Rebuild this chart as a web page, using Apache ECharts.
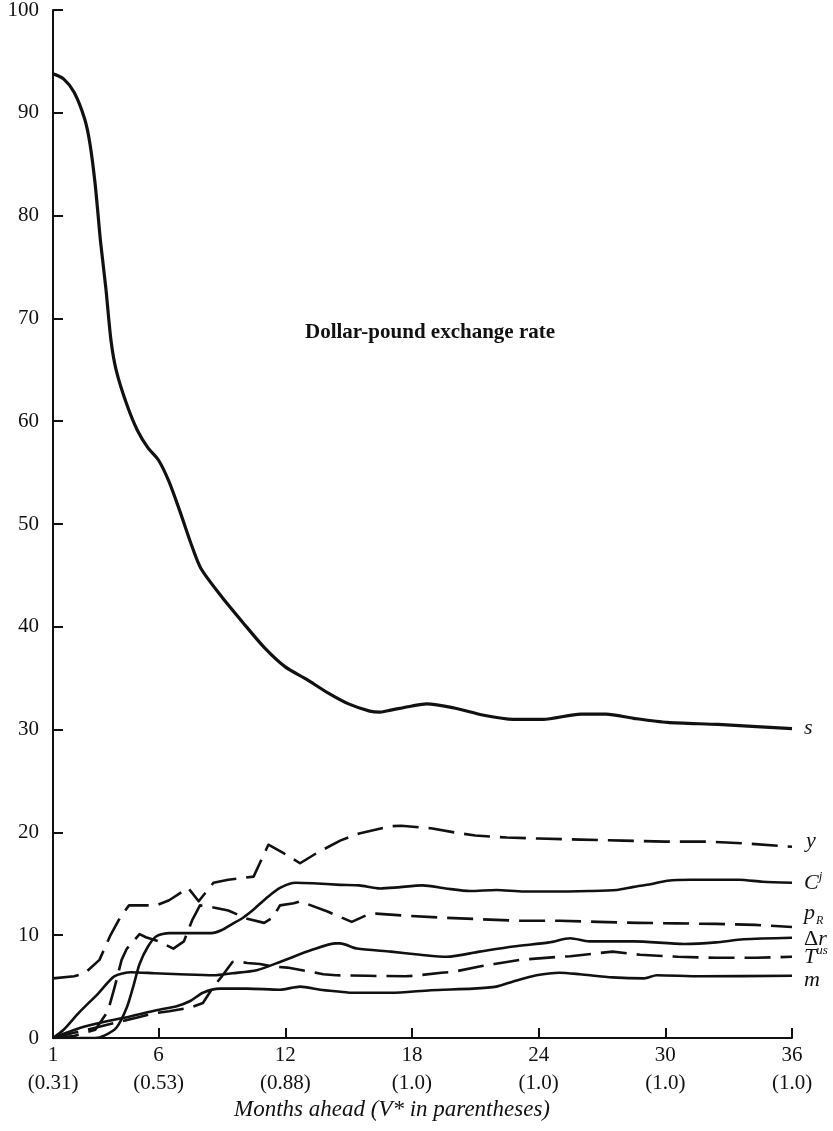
<!DOCTYPE html>
<html>
<head>
<meta charset="utf-8">
<script src="https://cdn.jsdelivr.net/npm/echarts@6/dist/echarts.min.js"></script>
<style>
html,body{margin:0;padding:0;background:#fff;}
#c{width:833px;height:1131px;}
</style>
</head>
<body>
<div id="c"></div>
<script>
// Tick labels
const xTicks = [1, 6, 12, 18, 24, 30, 36];
const vStar = ['0.31', '0.53', '0.88', '1.0', '1.0', '1.0', '1.0'];
const titleText = 'Dollar-pound exchange rate';
const xName = 'Months ahead (V* in parentheses)';

// Series data: [months ahead, percent]
const sData = [[1,93.8],[1.5,93.3],[2,92.0],[2.5,89.4],[2.75,87.0],[3,83.0],[3.25,77.5],[3.5,73.0],[3.75,67.8],[4,64.9],[4.5,61.6],[5,59.1],[5.5,57.4],[6,56.2],[6.5,54.1],[7,51.3],[7.5,48.3],[8,45.7],[9,42.9],[10,40.4],[11,38.0],[12,36.1],[13,34.9],[14,33.6],[15,32.5],[16,31.8],[16.5,31.7],[17,31.9],[18,32.3],[18.7,32.5],[20,32.1],[21.4,31.4],[22.8,31.0],[24.2,31.0],[26,31.5],[27.2,31.5],[28.5,31.1],[30.1,30.7],[32.5,30.5],[36,30.1]];
const yData = [[1,5.8],[2,6.0],[2.5,6.3],[3.2,7.6],[3.7,9.9],[4.2,11.8],[4.6,12.9],[5.9,12.9],[6.5,13.4],[7.4,14.6],[7.9,13.3],[8.6,15.1],[9.3,15.4],[10.5,15.7],[11.2,18.8],[11.9,18.0],[12.7,17.0],[13.5,18.0],[14.6,19.2],[15.5,19.9],[17.0,20.6],[17.5,20.65],[18.9,20.4],[20,20.0],[21,19.7],[22.5,19.5],[24,19.4],[26,19.3],[28,19.2],[30,19.1],[32,19.1],[34,18.9],[36,18.6]];
const cjData = [[1,0],[3,0],[3.4,0.2],[4,1.0],[4.5,3.0],[4.8,5.0],[5.1,7.2],[5.5,8.9],[5.9,9.9],[6.5,10.2],[7.5,10.2],[8.5,10.2],[9.0,10.5],[9.5,11.1],[10,11.7],[10.5,12.5],[11.1,13.6],[11.75,14.6],[12.5,15.1],[13.3,15.05],[14.6,14.9],[15.5,14.85],[16.5,14.55],[17.3,14.65],[18.5,14.85],[19.6,14.55],[20.75,14.3],[22,14.4],[23.3,14.25],[24.5,14.25],[26.4,14.3],[27.7,14.4],[28.5,14.7],[29.3,14.95],[30.1,15.3],[31.2,15.4],[33.5,15.4],[34.6,15.2],[36,15.1]];
const prData = [[1,0],[2,0.2],[3,0.8],[3.6,2.6],[3.9,4.8],[4.25,7.6],[4.5,8.7],[5.1,10.1],[5.4,9.8],[6.0,9.4],[6.7,8.7],[7.2,9.4],[7.6,11.5],[7.96,12.9],[8.6,12.7],[9.3,12.4],[10.2,11.6],[11.0,11.2],[11.4,11.7],[11.75,12.9],[12.4,13.1],[12.7,13.3],[14.0,12.3],[15.15,11.3],[15.9,12.0],[16.3,12.1],[17.7,11.9],[19.5,11.7],[21.3,11.55],[23.1,11.4],[25,11.4],[26.8,11.3],[28.7,11.2],[30.5,11.15],[32.4,11.1],[34.25,11.0],[36,10.8]];
const drData = [[1,0],[1.5,0.8],[2.2,2.4],[3.15,4.35],[3.9,6.0],[4.7,6.4],[5.8,6.3],[7.0,6.2],[8.6,6.1],[9.5,6.3],[10.65,6.6],[11.75,7.4],[13.3,8.6],[14.4,9.2],[14.6,9.2],[15.4,8.7],[17.0,8.4],[18.4,8.1],[19.65,7.9],[21.2,8.4],[22.8,8.9],[24.5,9.3],[25.5,9.7],[26.4,9.4],[28.5,9.4],[30.9,9.15],[32.4,9.3],[33.7,9.6],[36,9.75]];
const tusData = [[1,0],[2,0.5],[3,1.0],[4,1.5],[5,2.0],[5.75,2.4],[6.5,2.6],[7.5,2.95],[8.1,3.4],[8.6,5.0],[9.0,6.0],[9.5,7.4],[9.7,7.45],[10.2,7.3],[10.8,7.2],[11.4,6.95],[12.1,6.85],[13.2,6.45],[13.8,6.2],[14.4,6.1],[15.9,6.05],[17.7,6.0],[18.1,6.05],[19.4,6.35],[20,6.45],[21.2,6.95],[21.9,7.2],[23.1,7.6],[23.7,7.7],[25,7.9],[25.5,7.95],[26.8,8.25],[27.5,8.4],[28.8,8.1],[30.6,7.9],[32.4,7.8],[34.3,7.8],[36,7.9]];
const mData = [[1,0],[2.3,1.0],[3.5,1.6],[4.65,2.1],[5.9,2.7],[6.86,3.1],[7.5,3.6],[8.1,4.4],[8.9,4.8],[10.2,4.8],[11.75,4.7],[12.7,5.0],[13.65,4.7],[14.6,4.5],[15.1,4.4],[17,4.4],[18.9,4.65],[20.9,4.8],[22,5.0],[22.8,5.5],[23.9,6.1],[25,6.35],[25.96,6.2],[27.5,5.9],[29,5.8],[29.6,6.1],[31.65,6.0],[36,6.05]];

const serif = '"Liberation Serif", "DejaVu Serif", serif';
const ink = '#111';

const richBase = {
  i: {fontFamily: serif, fontStyle: 'italic', fontSize: 22, color: ink},
  n: {fontFamily: serif, fontSize: 22, color: ink},
  sup: {fontFamily: serif, fontStyle: 'italic', fontSize: 13, color: ink, padding: [0, 0, 12, 0]},
  sub: {fontFamily: serif, fontStyle: 'italic', fontSize: 12, color: ink, padding: [16, 0, 0, 1]}
};

function mk(name, data, dashed, width, label, offset, smooth) {
  return {
    name: name,
    type: 'line',
    data: data,
    showSymbol: false,
    smooth: smooth,
    lineStyle: {color: ink, width: width, type: dashed ? [26, 10] : 'solid', cap: 'butt', join: 'round'},
    endLabel: {
      show: true,
      formatter: function () { return label; },
      offset: offset,
      distance: 8,
      rich: richBase
    },
    emphasis: {disabled: true},
    z: 3
  };
}

const chart = echarts.init(document.getElementById('c'), null, {renderer: 'canvas'});
chart.setOption({
  animation: false,
  backgroundColor: '#fff',
  grid: {left: 53, right: 41, top: 10, bottom: 93, outerBoundsMode: 'none', containLabel: false},
  xAxis: {
    type: 'value', min: 1, max: 36,
    axisLine: {lineStyle: {color: ink, width: 2}},
    axisTick: {inside: true, length: 10, lineStyle: {color: ink, width: 2}, customValues: xTicks},
    axisLabel: {
      customValues: xTicks,
      color: ink, fontFamily: serif, fontSize: 21, lineHeight: 28, margin: 3,
      formatter: function (v) {
        const i = xTicks.indexOf(v);
        return v + '\n(' + vStar[i] + ')';
      }
    },
    splitLine: {show: false}
  },
  yAxis: {
    type: 'value', min: 0, max: 100, interval: 10,
    axisLine: {show: true, lineStyle: {color: ink, width: 2}},
    axisTick: {show: true, inside: true, length: 10, lineStyle: {color: ink, width: 2}},
    axisLabel: {color: ink, fontFamily: serif, fontSize: 21, margin: 14},
    splitLine: {show: false}
  },
  graphic: [
    {type: 'text', x: 430, y: 333, style: {text: titleText, font: 'bold 21px ' + serif, fill: ink, textAlign: 'center', textVerticalAlign: 'middle'}},
    {type: 'text', x: 392, y: 1110, style: {text: xName, font: 'italic 23px ' + serif, fill: ink, textAlign: 'center', textVerticalAlign: 'middle'}}
  ],
  series: [
    mk('s', sData, false, 3.2, '{i|s}', [4, 0], 0.25),
    mk('y', yData, true, 2.6, '{i|y}', [6, -6], false),
    mk('Cj', cjData, false, 2.6, '{i|C}{sup|j}', [4, 0], 0.25),
    mk('pR', prData, true, 2.6, '{i|p}{sub|R}', [4, -14], false),
    mk('dr', drData, false, 2.6, '{n|Δ}{i|r}', [4, 1], 0.25),
    mk('Tus', tusData, true, 2.6, '{i|T}{sup|us}', [4, 0], false),
    mk('m', mData, false, 2.6, '{i|m}', [4, 4], 0.25)
  ]
});
</script>
</body>
</html>
